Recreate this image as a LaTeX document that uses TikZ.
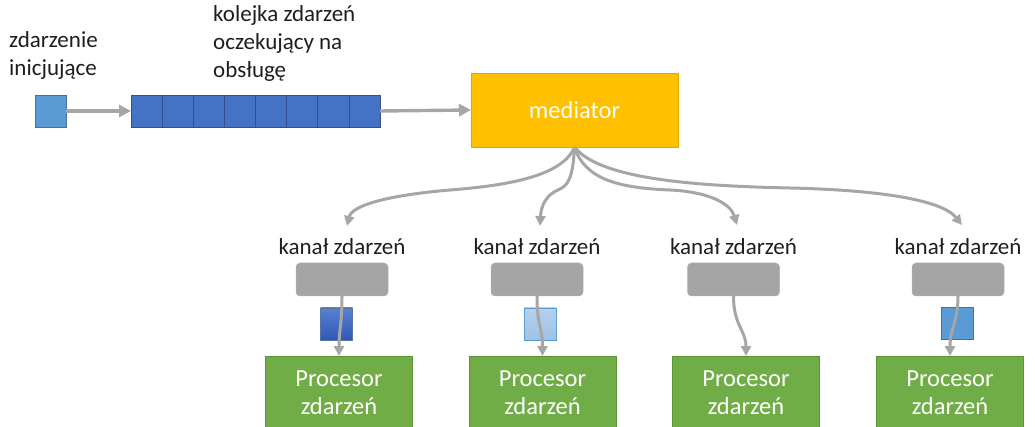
\documentclass[tikz,border=0pt]{standalone}
\usepackage{fontspec}
\setmainfont{Carlito}
\usetikzlibrary{arrows.meta}

\definecolor{connGray}{HTML}{A6A6A6}
\definecolor{chanGray}{HTML}{A5A5A5}
\definecolor{queueBlue}{HTML}{4472C4}
\definecolor{queueEdge}{HTML}{2F528F}
\definecolor{eventBlue}{HTML}{5B9BD5}
\definecolor{eventEdge}{HTML}{41719C}
\definecolor{paleBlue}{HTML}{9DC3E6}
\definecolor{paleTop}{HTML}{B4D0EE}
\definecolor{deepTop}{HTML}{5B80D2}
\definecolor{deepBottom}{HTML}{2E59B5}
\definecolor{medYellow}{HTML}{FFC000}
\definecolor{medEdge}{HTML}{E0A800}
\definecolor{procGreen}{HTML}{70AD47}
\definecolor{procEdge}{HTML}{5C9438}
\definecolor{inkText}{HTML}{1E1E1E}

\tikzset{
  txt/.style={font=\fontsize{23}{28}\selectfont, text=inkText, inner sep=0pt},
  conn/.style={draw=connGray, line width=3pt,
    -{Triangle[length=10pt,width=10pt]}},
  flow/.style={draw=connGray, line width=3.4pt,
    -{Triangle[length=12pt,width=12pt]}},
  evtbox/.style={draw=eventEdge, line width=0.6pt, fill=eventBlue,
    minimum width=31pt, minimum height=32pt, inner sep=0pt, outer sep=0pt},
  qcell/.style={draw=queueEdge, line width=0.6pt, fill=queueBlue,
    minimum width=31.125pt, minimum height=32pt, inner sep=0pt, outer sep=0pt},
  medbox/.style={draw=medEdge, line width=0.8pt, fill=medYellow,
    minimum width=207pt, minimum height=74pt, inner sep=0pt, outer sep=0pt,
    text=white, font=\fontsize{24.5}{29}\selectfont},
  chanbox/.style={draw=chanGray!85, line width=0.5pt, fill=chanGray,
    rounded corners=4pt, minimum width=92pt, minimum height=33pt,
    inner sep=0pt, outer sep=0pt},
  msgbox/.style={minimum width=32pt, minimum height=32pt, inner sep=0pt, outer sep=0pt},
  procbox/.style={draw=procEdge, line width=0.8pt, fill=procGreen,
    minimum width=147pt, minimum height=74pt, inner sep=0pt, outer sep=0pt,
    text=white, align=center, font=\fontsize{24.5}{28}\selectfont},
}

\begin{document}
\begin{tikzpicture}[x=1pt, y=-1pt]
  \useasboundingbox (0,0) rectangle (1035,427);
  \clip (0,0) rectangle (1035,427);

  % initiating event and the queue of waiting events (anchored at the last line)
  \node[txt, anchor=base west, align=left] (initlbl) at (9,76) {zdarzenie\\inicjujące};
  \node[txt, anchor=base west, align=left] (queuelbl) at (213,78) {kolejka zdarzeń\\oczekujący na\\obsługę};

  \node[evtbox] (init) at (50.5,111) {};
  \foreach \i in {1,...,8} {
    \node[qcell] (q\i) at ({131 + 31.125*(\i-0.5)},111) {};
  }

  % mediator
  \node[medbox] (med) at (574.5,110) {mediator};

  \draw[flow] (init.east) -- (q1.west);
  \draw[flow] (q8.east) -- (med.west);

  % event channels
  \foreach \n/\x in {1/342, 2/537, 3/733.5, 4/958} {
    \node[txt, anchor=base] (lbl\n) at (\x,255) {kanał zdarzeń};
    \node[chanbox] (ch\n) at (\x,279.5) {};
  }

  % events travelling through the channels
  \node[msgbox, draw=queueEdge!80, line width=0.5pt, top color=deepTop, bottom color=deepBottom] (msg1) at (336.5,324) {};
  \node[msgbox, draw=eventBlue, line width=0.6pt, top color=paleTop, bottom color=paleBlue] (msg2) at (540,324) {};
  \node[msgbox, draw=eventEdge, line width=0.6pt, fill=eventBlue] (msg4) at (957.5,323) {};

  % event processors
  \node[procbox, anchor=north] (p1) at (339,356) {Procesor\\zdarzeń};
  \node[procbox, anchor=north] (p2) at (542.5,356) {Procesor\\zdarzeń};
  \node[procbox, anchor=north] (p3) at (746,356) {Procesor\\zdarzeń};
  \node[procbox, anchor=north] (p4) at (950,356) {Procesor\\zdarzeń};

  % mediator fan-out towards the channels
  \coordinate (t1) at (347,226);
  \coordinate (t2) at (540,226);
  \coordinate (t3) at (737,225);
  \coordinate (t4) at (962,225);

  \draw[conn] (med.south) .. controls (562,178) and (500,186) .. (450,190)
                          .. controls (390,195) and (352,205) .. (t1);
  \draw[conn] (med.south) .. controls (573,178) and (568,186) .. (558,190)
                          .. controls (546,195) and (541,206) .. (t2);
  \draw[conn] (med.south) .. controls (585,180) and (620,188) .. (670,190)
                          .. controls (712,192) and (731,205) .. (t3);
  \draw[conn] (med.south) .. controls (600,180) and (700,186) .. (790,188)
                          .. controls (880,190) and (942,200) .. (t4);

  % channel to processor
  \draw[conn] (ch1.south) .. controls +(0,28) and +(0,-26) .. (p1.north);
  \draw[conn] (ch2.south) .. controls +(0,30) and +(0,-28) .. (p2.north);
  \draw[conn] (ch3.south) .. controls +(0,30) and +(0,-26) .. (p3.north);
  \draw[conn] (ch4.south) .. controls +(0,26) and +(0,-28) .. (p4.north);
\end{tikzpicture}
\end{document}
